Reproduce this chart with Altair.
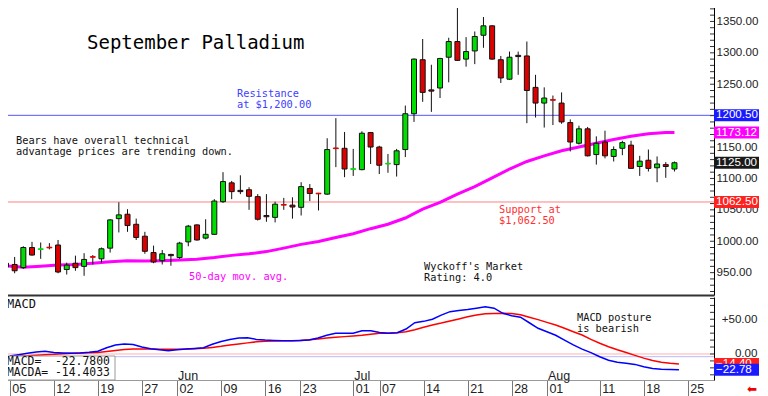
import json
import altair as alt
import pandas as pd

# ---------------- data ----------------
opens = [959, 963, 958, 990, 987, 990.5, 994, 955, 965, 960,
         975.5, 972, 989, 1036, 1043, 1027, 1008, 982, 969, 979,
         974, 999, 1026, 1005, 1011, 1063, 1093, 1081, 1082, 1071,
         1041, 1038, 1058.5, 1057.5, 1054, 1084, 1076.5, 1075, 1148.5, 1148,
         1114.5, 1114, 1173, 1150, 1123, 1122, 1146, 1203, 1289, 1241,
         1244, 1293, 1318, 1290, 1303, 1328, 1343, 1289, 1258, 1296,
         1295, 1245, 1220, 1225.5, 1220, 1189, 1156, 1179, 1138, 1158,
         1135, 1148, 1153, 1119, 1129, 1117, 1122, 1115]
highs = [968, 975, 992, 999, 998, 997, 1002, 966, 977, 981,
         978, 990, 1035, 1062, 1051, 1036, 1015, 993, 986, 980,
         999, 1026, 1027, 1035, 1067, 1110, 1096, 1105, 1086, 1075,
         1075, 1063, 1069, 1070, 1094, 1091, 1077, 1164, 1196, 1174,
         1147, 1175, 1174, 1152, 1139, 1147, 1216, 1291, 1322, 1281,
         1292, 1324, 1375, 1325, 1334, 1357, 1344, 1295, 1302, 1302,
         1318, 1265, 1245, 1232, 1237, 1194, 1184, 1182, 1167, 1176,
         1151, 1160, 1160, 1136, 1146, 1135, 1126, 1127]
lows = [955, 949, 956, 977, 972, 987, 949, 947, 953, 945,
        963, 966, 982, 1014, 1015, 1002, 980, 965, 963, 961,
        972, 992, 1001, 1003, 1010, 1061, 1067, 1075, 1050, 1033,
        1031, 1030, 1050, 1036, 1041, 1064, 1049, 1074, 1118, 1102,
        1104, 1113, 1123, 1107, 1109, 1103, 1134, 1190, 1222, 1206,
        1228, 1253, 1287, 1278, 1282, 1308, 1289, 1252, 1257, 1265,
        1188, 1197, 1181, 1185, 1187, 1143, 1154, 1135, 1122, 1132,
        1127, 1137, 1116, 1104, 1111, 1094, 1101, 1111]
closes = [965, 953, 990, 978, 988, 989.5, 951, 962, 958, 971,
          974.5, 988, 1034, 1042, 1025, 1006, 984, 967, 980, 977,
          997, 1024, 1002, 1011, 1064, 1095, 1079, 1079, 1071.5, 1035,
          1039, 1059, 1057.5, 1054.5, 1087, 1076, 1075.5, 1146, 1147.5, 1115,
          1115.5, 1172, 1150, 1121, 1124, 1144, 1203, 1290, 1237, 1239,
          1291, 1318, 1288, 1302, 1326, 1343, 1290, 1260, 1293, 1294,
          1240, 1220, 1228, 1224.5, 1190, 1158, 1179, 1136, 1156, 1136,
          1146, 1157, 1116, 1127.5, 1116, 1123, 1119, 1125]

ma_idx = list(range(0, 77, 2)) + [77]
ma_vals = [961, 958.5, 960, 962, 963, 965, 967.5, 969, 968.5, 969,
           970, 971.5, 974, 977.5, 980, 983.5, 989, 995, 999.5, 1006,
           1012, 1020, 1027, 1037, 1051, 1062, 1075, 1087, 1101, 1115,
           1127, 1136, 1144, 1150, 1156, 1162, 1167, 1171, 1173, 1173.12]

macd_idx = list(range(1, 78))
macd_vals = [-3, -1, 1, 3, 4, 2, 1.5, 1, 1.5, 2.5,
             4, 9, 13, 14.4, 13.5, 10, 7.5, 6, 4.8, 6,
             7, 8, 9, 14, 18, 21, 23, 23.5, 21, 20,
             19.5, 19, 19, 19.5, 20, 23, 27, 29.8, 29.8, 30,
             33.6, 33.6, 31, 30, 30.5, 36, 45, 47, 50, 56,
             61, 62.5, 64, 66, 68, 66, 58.6, 55, 53, 45,
             37, 32, 27, 20, 13, 7, 2, -4, -9, -12,
             -13.4, -15, -18.5, -21, -22, -22.5, -22.78]
signal_vals = [-3, -2.8, -2.5, -1.8, -1, -0.5, 0.3, 1, 1.3, 1.6,
               2, 3.5, 5, 6.5, 7.2, 7.3, 7, 6.8, 6.7, 6.8,
               7, 7.5, 8.2, 9.5, 11, 13, 14.5, 16, 17.5, 18.5,
               18.8, 19, 19.2, 19.5, 20.5, 21.5, 23, 24, 25, 26,
               27, 28.5, 29.8, 30, 30.5, 32, 35, 38.5, 41.8, 44.5,
               47.5, 50.5, 53.5, 56, 57.8, 58.5, 58.6, 58.2, 56.5, 53,
               49.5, 45.5, 41.8, 37, 32, 27.4, 21, 15.5, 10.5, 6,
               2, -2, -6, -9.5, -12, -13.5, -14.4]

tick_idx = [1, 6, 11, 16, 20, 25, 30, 34, 40, 43, 48, 53, 58, 62, 68, 73, 78]
tick_labels = ["05", "12", "19", "27", "02", "09", "16", "23", "01", "07",
               "14", "21", "28", "01", "11", "18", "25"]
month_idx = [20, 40, 62]
month_labels = ["Jun", "Jul", "Aug"]

price_ticks = [950, 1000, 1050, 1100, 1150, 1250, 1300, 1350]
macd_ticks = [0, 50]
resistance = 1200.50
support = 1062.50
ma_last = 1173.12
last_close = 1125.00
macd_last = -22.78
macda_last = -14.40
macd_full = -22.7800
macda_full = -14.4033

# ---------------- layout / style ----------------
MONO = "DejaVu Sans Mono"
SANS = "Liberation Sans"
W = 715
H_MAIN = 296
H_MACD = 83
MACD_TOP = 297  # page y where the MACD panel starts

xs = alt.Scale(domain=[-0.227, 80.98], nice=False, zero=False)
ys = alt.Scale(domain=[914.4, 1385.7], nice=False, zero=False)
ms = alt.Scale(domain=[-37.5, 82.1], nice=False, zero=False)

ONE = pd.DataFrame({"k": [0]})

candles = pd.DataFrame({"i": list(range(len(opens))), "o": opens, "h": highs,
                        "l": lows, "c": closes})
candles["fill"] = ["#00dd00" if c >= o else "#dd0000" for o, c in zip(opens, closes)]
candles["line"] = [f if abs(c - o) <= 1 else "#111111"
                   for f, o, c in zip(candles["fill"], opens, closes)]

ma_df = pd.DataFrame({"i": ma_idx, "v": ma_vals})
macd_df = pd.DataFrame({"i": macd_idx, "macd": macd_vals, "sig": signal_vals})

x_main_axis = alt.Axis(title=None, labels=False, ticks=False, grid=False,
                       domain=True, domainColor="#333333", domainWidth=2)
y_main_axis = alt.Axis(orient="right", title=None, values=price_ticks, format=".2f",
                       grid=False, ticks=False, labelPadding=2, labelFont=SANS,
                       labelFontSize=11.6, labelColor="#222222", domainColor="#000000")

lab_expr = f"{json.dumps(tick_labels)}[indexof({json.dumps(tick_idx)}, datum.value)]"
x_macd_axis = alt.Axis(title=None, values=tick_idx, labelExpr=lab_expr, grid=False,
                       domain=True, domainColor="#9a9a9a", tickColor="#777777",
                       tickSize=16, labelAlign="left", labelBaseline="middle",
                       labelPadding=-8, labelOffset=2, labelFont=SANS,
                       labelFontSize=12.5, labelColor="#222222")
y_macd_axis = alt.Axis(orient="right", title=None, values=macd_ticks,
                       labelExpr="(datum.value > 0 ? '+' : '') + format(datum.value, '.2f')",
                       grid=False, ticks=False, labelPadding=43, labelAlign="right",
                       labelFont=SANS, labelFontSize=11.6, labelColor="#222222",
                       domainColor="#000000")


def text_block(lines, x, y, color="#111111", size=10.3, lh=11, font=MONO):
    out = []
    for k, line in enumerate(lines):
        out.append(alt.Chart(ONE).mark_text(text=line, align="left", baseline="middle",
                                            font=font, fontSize=size, color=color)
                   .encode(x=alt.value(x), y=alt.value(y + k * lh)))
    return out


def vbox(value, color, scale, axis):
    d = pd.DataFrame({"v": [value]})
    y = alt.Y("v:Q", scale=scale, axis=axis)
    box = alt.Chart(d).mark_tick(orient="horizontal", color=color, size=53,
                                 thickness=12, opacity=1).encode(x=alt.value(741.5), y=y)
    t = alt.Chart(d).mark_text(align="left", baseline="middle", font=SANS, fontSize=11.6,
                               color="white").encode(
        x=alt.value(717), y=y, text=alt.Text("v:Q", format=".2f"))
    return [box, t]


def minor_ticks(vals, scale, axis):
    d = pd.DataFrame({"v": vals})
    return alt.Chart(d).mark_tick(orient="horizontal", color="#333333", size=4,
                                  thickness=1, opacity=1).encode(
        x=alt.value(713), y=alt.Y("v:Q", scale=scale, axis=axis))


# ---------------- main price panel ----------------
base_x = alt.X("i:Q", scale=xs, axis=x_main_axis)


def YM(field):
    return alt.Y(f"{field}:Q", scale=ys, axis=y_main_axis)


sup_rule = alt.Chart(pd.DataFrame({"v": [support]})).mark_rule(
    color="#ff8080", strokeWidth=1).encode(y=YM("v"))
res_rule = alt.Chart(pd.DataFrame({"v": [resistance]})).mark_rule(
    color="#5555ff", strokeWidth=1).encode(y=YM("v"))

ma_line = alt.Chart(ma_df).mark_line(color="#ff00ff", strokeWidth=3).encode(
    x=base_x, y=YM("v"))

wicks = alt.Chart(candles).mark_rule(color="#111111", strokeWidth=1).encode(
    x=base_x, y=YM("l"), y2="h:Q")

bodies = alt.Chart(candles).mark_bar(size=5, strokeWidth=1, opacity=1, clip=True).encode(
    x=base_x, y=YM("o"), y2="c:Q",
    fill=alt.Fill("fill:N", scale=None), stroke=alt.Stroke("line:N", scale=None))

main_layers = [sup_rule, res_rule, ma_line, wicks, bodies,
               minor_ticks(list(range(920, 1390, 10)), ys, y_main_axis)]
main_layers += text_block(["September Palladium"], 88, 44, color="#000000", size=19)
main_layers += text_block(["Resistance", "at $1,200.00"], 238, 95, color="#4040ff")
main_layers += text_block(["Bears have overall technical",
                           "advantage prices are trending down."], 17, 142)
main_layers += text_block(["Support at", "$1,062.50"], 500, 211, color="#ff3030", lh=10.5)
main_layers += text_block(["50-day mov. avg."], 190, 278, color="#ff00ff")
main_layers += text_block(["Wyckoff's Market", "Rating: 4.0"], 425, 268)
main_layers += vbox(resistance, "#1a1aff", ys, y_main_axis)
main_layers += vbox(ma_last, "#ff00ff", ys, y_main_axis)
main_layers += vbox(last_close, "#1a1a1a", ys, y_main_axis)
main_layers += vbox(support, "#ff2020", ys, y_main_axis)

main = alt.layer(*main_layers).properties(width=W, height=H_MAIN)

# ---------------- MACD panel ----------------
mx = alt.X("i:Q", scale=xs, axis=x_macd_axis)


def YD(field):
    return alt.Y(f"{field}:Q", scale=ms, axis=y_macd_axis)


zero_rule = alt.Chart(pd.DataFrame({"v": [0]})).mark_rule(
    color="#ffb0b0", strokeWidth=1).encode(y=YD("v"))
zero2_rule = alt.Chart(pd.DataFrame({"v": [-3.9]})).mark_rule(
    color="#b8b8ff", strokeWidth=1).encode(y=YD("v"))
sig_line = alt.Chart(macd_df).mark_line(color="#ff0000", strokeWidth=1.5).encode(
    x=mx, y=YD("sig"))
macd_line = alt.Chart(macd_df).mark_line(color="#0000ff", strokeWidth=1.5).encode(
    x=mx, y=YD("macd"))

box = alt.Chart(ONE).mark_rect(fill="white", stroke="#999999", strokeWidth=1).encode(
    x=alt.value(0), x2=alt.value(116), y=alt.value(356 - MACD_TOP), y2=alt.value(H_MACD))

months = alt.Chart(pd.DataFrame({"i": month_idx, "m": month_labels})).mark_text(
    align="left", baseline="middle", font=SANS, fontSize=12.5, dx=1, color="#222222"
).encode(x=mx, y=alt.value(376 - MACD_TOP), text="m:N")

arrow = alt.Chart(ONE).mark_text(text="\u2b05", font="DejaVu Sans", fontSize=12,
                                 color="#ee0000", align="center", baseline="middle").encode(
    x=alt.value(753), y=alt.value(389 - MACD_TOP))

macd_layers = [zero_rule, zero2_rule, sig_line, macd_line, box, months,
               minor_ticks(list(range(-30, 81, 10)), ms, y_macd_axis)]
macd_layers += text_block(["MACD"], 8, 304 - MACD_TOP, size=12)
macd_layers += text_block([f"MACD=\u00a0\u00a0{macd_full:.4f}",
                           f"MACDA=\u00a0{macda_full:.4f}"], 8, 362 - MACD_TOP, size=11.4)
macd_layers += text_block(["MACD posture", "is bearish"], 578, 318 - MACD_TOP, lh=10.5)
macd_layers += vbox(macda_last, "#ff2020", ms, y_macd_axis)
macd_layers += vbox(macd_last, "#1a1aff", ms, y_macd_axis)
macd_layers += [arrow]

macd = alt.layer(*macd_layers).properties(width=W, height=H_MACD)

chart = alt.vconcat(main, macd, spacing=2).properties(
    padding={"left": -10, "top": -9, "right": -8, "bottom": 0}
).configure_view(strokeWidth=0)

chart.save("out.html", embed_options={"renderer": "svg", "actions": False})
